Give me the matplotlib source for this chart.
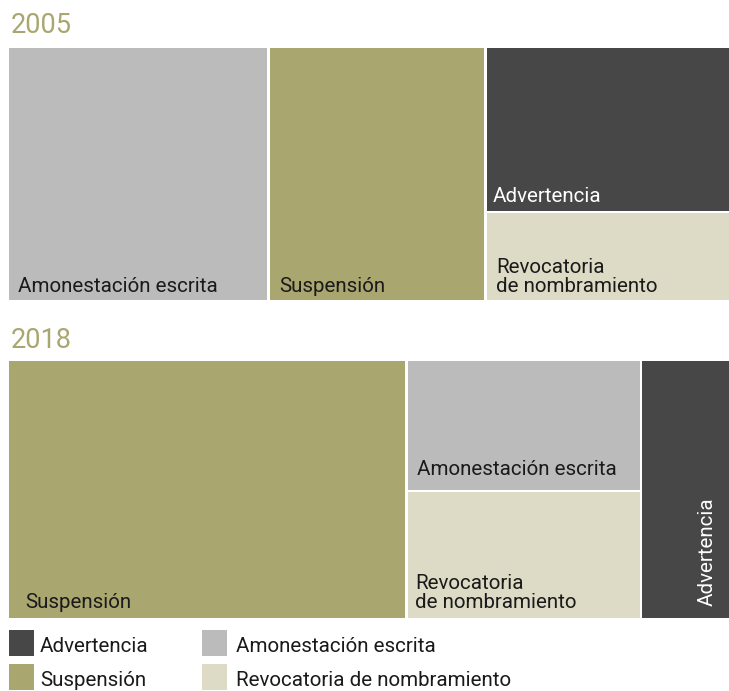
import matplotlib.pyplot as plt
from matplotlib.patches import Rectangle

plt.rcParams['font.family'] = ['Roboto', 'DejaVu Sans']

years = ["2005", "2018"]
categories = ["Advertencia", "Amonestación escrita", "Suspensión", "Revocatoria de nombramiento"]
labels = {
    "Advertencia": "Advertencia",
    "Amonestación escrita": "Amonestación escrita",
    "Suspensión": "Suspensión",
    "Revocatoria de nombramiento": "Revocatoria\nde nombramiento",
}
colors = {
    "Advertencia": "#474747",
    "Amonestación escrita": "#bbbbbb",
    "Suspensión": "#aaa66f",
    "Revocatoria de nombramiento": "#dddac5",
}

# share of sanctions (%)
values_2005 = {"Amonestación escrita": 36.1, "Suspensión": 30.0,
               "Advertencia": 22.0, "Revocatoria de nombramiento": 11.9}
values_2018 = {"Suspensión": 55.1, "Amonestación escrita": 16.4,
               "Revocatoria de nombramiento": 16.0, "Advertencia": 12.4}

# column grouping of the treemap
columns_2005 = [["Amonestación escrita"], ["Suspensión"], ["Advertencia", "Revocatoria de nombramiento"]]
columns_2018 = [["Suspensión"], ["Amonestación escrita", "Revocatoria de nombramiento"], ["Advertencia"]]

W, H = 729, 691
fig = plt.figure(figsize=(W / 100, H / 100), dpi=100)
ax = fig.add_axes([0, 0, 1, 1])
ax.set_xlim(0, W)
ax.set_ylim(H, 0)
ax.axis("off")

gap = 2.5
fs = 14.8
title_color = "#aaa66f"


def draw_treemap(values, columns, x0, y0, x1, y1, pad, vertical_last=False, shift=None):
    total = sum(values.values())
    width = x1 - x0
    height = y1 - y0
    cx = x0
    for ci, col in enumerate(columns):
        col_total = sum(values[c] for c in col)
        cw = width * col_total / total
        cy = y0
        for cat in col:
            ch = height * values[cat] / col_total
            ax.add_patch(Rectangle((cx + gap / 2, cy + gap / 2), cw - gap, ch - gap,
                                   facecolor=colors[cat], edgecolor="none"))
            tc = "white" if cat == "Advertencia" else "#1a1a1a"
            if vertical_last and ci == len(columns) - 1:
                ax.text(cx + cw / 2 + 22, cy + ch - 14, labels[cat], rotation=90,
                        ha="center", va="bottom", fontsize=fs, color=tc)
            else:
                dx, dy = shift.get(cat, (0, 0)) if shift else (0, 0)
                ax.text(cx + pad[0] + dx, cy + ch - pad[1] - dy, labels[cat], ha="left",
                        va="baseline", fontsize=fs, color=tc, linespacing=0.95)
            cy += ch
        cx += cw


ax.text(11, 25, years[0], fontsize=19.5, color=title_color, va="center", ha="left")
draw_treemap(values_2005, columns_2005, 7.5, 46.5, 730.5, 301.5, (11, 10),
             shift={"Advertencia": (-4, 0)})

ax.text(11, 340, years[1], fontsize=19.5, color=title_color, va="center", ha="left")
draw_treemap(values_2018, columns_2018, 7.5, 359.5, 730.5, 619.5, (9, 12),
             vertical_last=True,
             shift={"Suspensión": (9, 0), "Amonestación escrita": (2, 4)})

# legend
leg_pos = [(9, 630), (202, 630), (9, 664), (202, 664)]
leg_text_dx = [31, 34, 31, 34]
leg_order = ["Advertencia", "Amonestación escrita", "Suspensión", "Revocatoria de nombramiento"]
for (lx, ly), tdx, cat in zip(leg_pos, leg_text_dx, leg_order):
    ax.add_patch(Rectangle((lx, ly), 25, 26, facecolor=colors[cat], edgecolor="none"))
    ax.text(lx + tdx, ly + 17, cat, fontsize=fs, color="#1a1a1a", va="center", ha="left")

fig.savefig("out.png", dpi=100)
